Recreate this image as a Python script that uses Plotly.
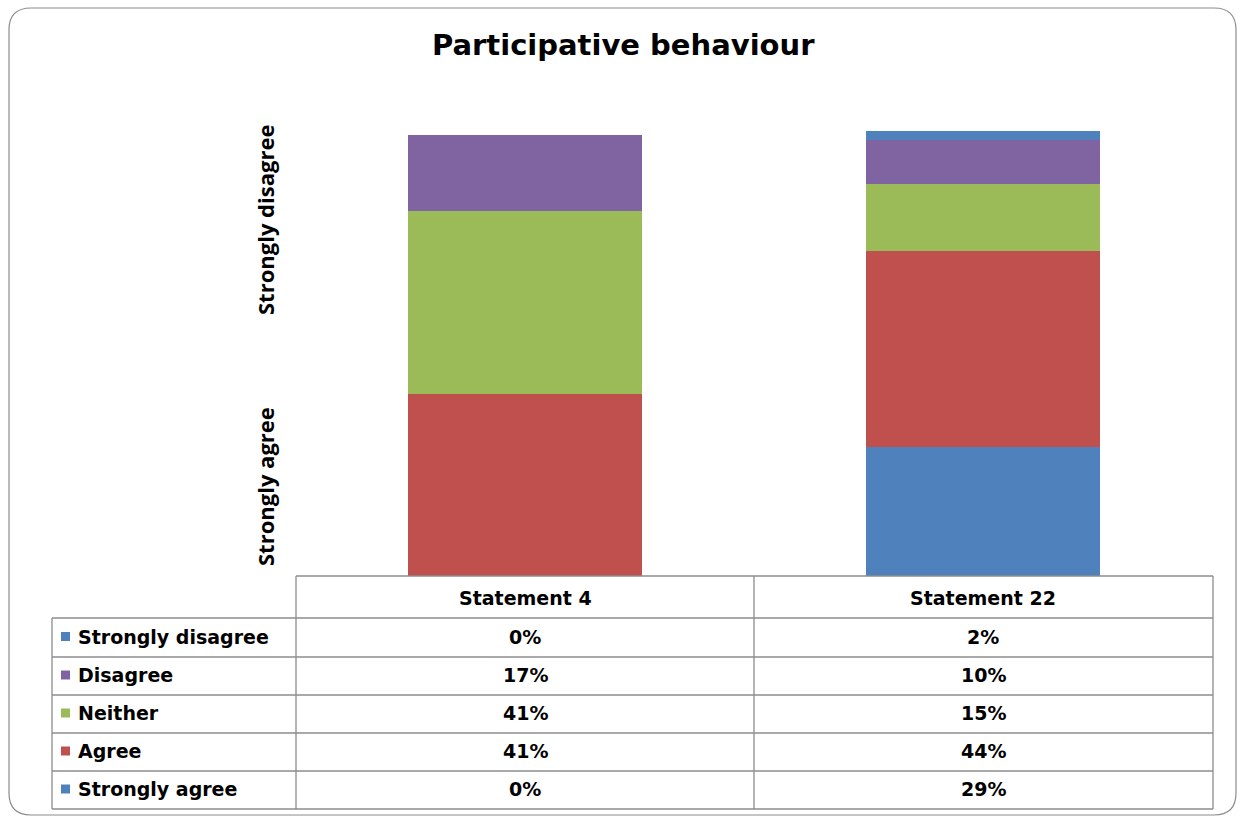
import plotly.graph_objects as go

# ---- data ----
categories = ["Statement 4", "Statement 22"]
series_names = ["Strongly disagree", "Disagree", "Neither", "Agree", "Strongly agree"]
strongly_disagree = [0, 2]
disagree = [17, 10]
neither = [41, 15]
agree = [41, 44]
strongly_agree = [0, 29]
colors = {
    "Strongly disagree": "#4F81BD",
    "Disagree": "#8064A2",
    "Neither": "#9BBB59",
    "Agree": "#C0504D",
    "Strongly agree": "#4F81BD",
}
values = {
    "Strongly disagree": strongly_disagree,
    "Disagree": disagree,
    "Neither": neither,
    "Agree": agree,
    "Strongly agree": strongly_agree,
}
y_labels = ["Strongly agree", "Strongly disagree"]
y_label_pos = [20, 80]

W, H = 1241, 819
def px(x):
    return x / W
def py(y):
    return (H - y) / H

fig = go.Figure()
# stack from bottom: strongly agree first
for name in reversed(series_names):
    fig.add_trace(go.Bar(
        x=categories, y=values[name], name=name,
        marker=dict(color=colors[name], line=dict(width=0)),
        showlegend=False, hoverinfo="skip"))

plot_l, plot_r = 296, 1212
plot_b, plot_t = 576, 131

fig.update_layout(
    width=W, height=H,
    margin=dict(l=0, r=0, t=0, b=0),
    barmode="stack", bargap=0.487,
    paper_bgcolor="white", plot_bgcolor="white",
    xaxis=dict(domain=[px(plot_l), px(plot_r)], range=[-0.5, 1.5],
               showticklabels=False, showgrid=False, zeroline=False,
               showline=False, ticks=""),
    yaxis=dict(domain=[py(plot_b), py(plot_t)], range=[0, 100],
               showticklabels=False, showgrid=False, zeroline=False,
               showline=False, ticks=""),
    font=dict(family="DejaVu Sans", color="#000000"),
)

shapes = []
anns = []

# rounded outer border
x0, y0, x1, y1, r = 9, 8, 1236, 815, 22
path = (f"M {px(x0+r)},{py(y0)} L {px(x1-r)},{py(y0)} "
        f"Q {px(x1)},{py(y0)} {px(x1)},{py(y0+r)} "
        f"L {px(x1)},{py(y1-r)} Q {px(x1)},{py(y1)} {px(x1-r)},{py(y1)} "
        f"L {px(x0+r)},{py(y1)} Q {px(x0)},{py(y1)} {px(x0)},{py(y1-r)} "
        f"L {px(x0)},{py(y0+r)} Q {px(x0)},{py(y0)} {px(x0+r)},{py(y0)} Z")
shapes.append(dict(type="path", xref="paper", yref="paper", path=path,
                   line=dict(color="#8C8C8C", width=1.2)))

# title
anns.append(dict(text="<b>Participative behaviour</b>", xref="paper", yref="paper",
                 x=px(623), y=py(45), showarrow=False, xanchor="center", yanchor="middle",
                 font=dict(family="DejaVu Sans", size=29, color="#000000")))

# y labels (rotated)
for lab, pos in zip(y_labels, y_label_pos):
    anns.append(dict(text=f"<b>{lab}</b>", xref="paper", yref="y", x=px(265), y=pos,
                     textangle=-90, showarrow=False, xanchor="center", yanchor="middle",
                     font=dict(family="Open Sans", size=22, color="#000000")))

# data table
tbl_left, col_l, col_m, col_r = 52, 296, 754, 1213
row_edges = [576, 618, 657, 695, 733, 771, 809]
line_c = dict(color="#8C8C8C", width=1.3)
shapes.append(dict(type="line", xref="paper", yref="paper", x0=px(col_l), x1=px(col_r),
                   y0=py(row_edges[0]), y1=py(row_edges[0]), line=line_c))
for i in range(1, len(row_edges)):
    shapes.append(dict(type="line", xref="paper", yref="paper", x0=px(tbl_left), x1=px(col_r),
                       y0=py(row_edges[i]), y1=py(row_edges[i]), line=line_c))
shapes.append(dict(type="line", xref="paper", yref="paper", x0=px(tbl_left), x1=px(tbl_left),
                   y0=py(row_edges[1]), y1=py(row_edges[-1]), line=line_c))
for xv in (col_l, col_m, col_r):
    shapes.append(dict(type="line", xref="paper", yref="paper", x0=px(xv), x1=px(xv),
                       y0=py(row_edges[0]), y1=py(row_edges[-1]), line=line_c))

tfont = dict(family="DejaVu Sans", size=19, color="#000000")
col_centers = [(col_l + col_m) / 2, (col_m + col_r) / 2]
hdr_y = (row_edges[0] + row_edges[1]) / 2 + 1
for c, cx in zip(categories, col_centers):
    anns.append(dict(text=f"<b>{c}</b>", xref="paper", yref="paper", x=px(cx), y=py(hdr_y),
                     showarrow=False, xanchor="center", yanchor="middle", font=tfont))
for i, name in enumerate(series_names):
    cy = (row_edges[i + 1] + row_edges[i + 2]) / 2 - 1
    shapes.append(dict(type="rect", xref="paper", yref="paper",
                       x0=px(61), x1=px(70), y0=py(cy - 4.5), y1=py(cy + 4.5),
                       fillcolor=colors[name], line=dict(width=0)))
    anns.append(dict(text=f"<b>{name}</b>", xref="paper", yref="paper", x=px(76), y=py(cy),
                     showarrow=False, xanchor="left", yanchor="middle", font=tfont))
    for j, cx in enumerate(col_centers):
        anns.append(dict(text=f"<b>{values[name][j]}%</b>", xref="paper", yref="paper",
                         x=px(cx), y=py(cy), showarrow=False, xanchor="center",
                         yanchor="middle", font=tfont))

fig.update_layout(shapes=shapes, annotations=anns)
fig.write_html("out.html", config={"displayModeBar": False})
